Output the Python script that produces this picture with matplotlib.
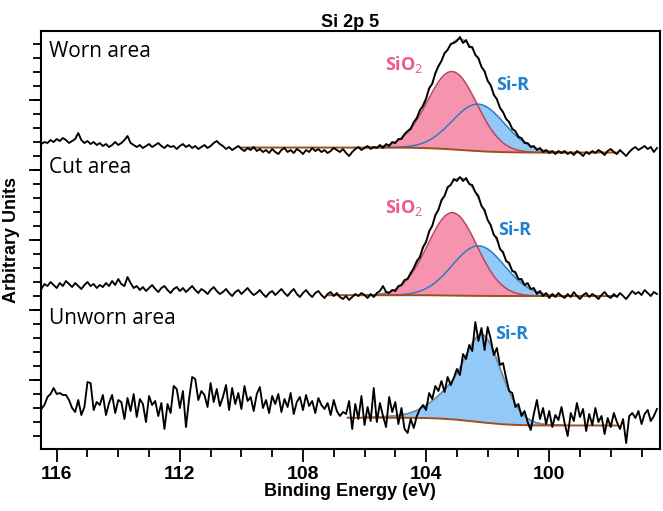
import numpy as np
import matplotlib.pyplot as plt
from matplotlib.ticker import MultipleLocator, FixedLocator

plt.rcParams['mathtext.fontset'] = 'custom'
plt.rcParams['mathtext.rm'] = 'Open Sans'
plt.rcParams['mathtext.bf'] = 'Open Sans:bold'

# Si 2p spectra, 0.1 eV steps from 116.5 down to 96.5 eV
energy = np.round(np.linspace(116.5, 96.5, 201), 1)

worn = [305, 307, 306, 309, 307, 310, 308, 311, 309, 306,
        308, 310, 316, 309, 306, 308, 305, 307, 304, 306,
        303, 305, 302, 304, 307, 304, 306, 309, 313, 306,
        304, 302, 304, 301, 303, 305, 302, 304, 306, 303,
        301, 304, 302, 303, 300, 303, 305, 302, 304, 301,
        303, 300, 302, 304, 301, 303, 306, 308, 305, 303,
        300, 302, 299, 301, 303, 300, 298, 301, 299, 302,
        298, 300, 297, 299, 296, 300, 297, 295, 299, 301,
        297, 299, 296, 300, 298, 295, 299, 297, 301, 298,
        300, 297, 299, 296, 298, 301, 299, 297, 300, 296,
        293, 297, 300, 302, 299, 301, 303, 300, 302, 301,
        304, 301, 305, 303, 307, 306, 310, 310, 315, 318,
        320, 327, 331, 339, 343, 350, 361, 365, 376, 383,
        388, 396, 399, 405, 406, 408, 412, 406, 409, 402,
        402, 394, 391, 382, 378, 368, 364, 354, 350, 341,
        337, 330, 327, 320, 318, 312, 311, 306, 306, 302,
        303, 299, 301, 297, 299, 296, 298, 295, 298, 296,
        298, 295, 297, 294, 298, 296, 293, 297, 295, 298,
        296, 299, 297, 294, 298, 300, 297, 295, 299, 296,
        293, 297, 300, 302, 299, 301, 303, 300, 302, 297, 301]

cut = [160, 165, 163, 167, 164, 161, 166, 163, 168, 165,
       162, 166, 163, 160, 164, 167, 163, 165, 161, 164,
       162, 166, 163, 168, 164, 170, 165, 163, 172, 166,
       161, 163, 159, 162, 158, 161, 164, 160, 157, 161,
       163, 159, 156, 160, 162, 158, 161, 157, 160, 163,
       159, 156, 160, 158, 155, 159, 162, 158, 155, 157,
       160, 156, 153, 157, 159, 155, 158, 161, 157, 154,
       156, 159, 155, 152, 156, 158, 154, 157, 160, 156,
       153, 157, 160, 155, 152, 156, 159, 155, 152, 156,
       158, 154, 151, 155, 157, 153, 156, 152, 150, 153,
       149, 152, 155, 153, 156, 154, 151, 155, 152, 156,
       158, 163, 157, 156, 159, 158, 163, 164, 169, 170,
       176, 181, 188, 192, 202, 207, 218, 223, 234, 239,
       249, 253, 262, 264, 270, 268, 272, 268, 271, 265,
       264, 257, 253, 243, 239, 229, 224, 214, 211, 200,
       197, 188, 186, 178, 177, 170, 170, 164, 166, 160,
       161, 155, 158, 153, 156, 151, 155, 152, 156, 153,
       151, 155, 152, 157, 153, 150, 154, 156, 152, 155,
       153, 150, 154, 157, 153, 151, 155, 152, 156, 153,
       150, 154, 158, 155, 157, 154, 159, 156, 153, 157, 155]

unworn = [40, 44, 52, 55, 61, 55, 56, 54, 54, 49,
          41, 37, 49, 34, 42, 67, 66, 39, 47, 44,
          54, 34, 46, 54, 36, 49, 47, 30, 51, 38,
          55, 32, 50, 45, 27, 53, 44, 48, 33, 46,
          20, 45, 36, 63, 60, 41, 58, 22, 50, 72,
          70, 49, 58, 54, 42, 66, 47, 60, 43, 52,
          64, 39, 61, 45, 56, 40, 63, 48, 52, 38,
          55, 62, 41, 49, 36, 53, 45, 55, 37, 50,
          42, 56, 35, 47, 52, 39, 54, 43, 48, 36,
          51, 44, 40, 46, 34, 49, 38, 33, 37, 35,
          48, 20, 45, 30, 53, 24, 42, 28, 61, 27,
          46, 33, 22, 52, 37, 47, 25, 41, 20, 16,
          30, 21, 33, 40, 44, 39, 56, 50, 63, 58,
          68, 57, 72, 64, 71, 80, 74, 95, 90, 104,
          98, 127, 108, 121, 99, 122, 110, 94, 101, 84,
          86, 71, 58, 56, 42, 45, 33, 38, 27, 19,
          35, 49, 30, 41, 25, 38, 22, 34, 29, 42,
          26, 13, 36, 28, 46, 32, 40, 18, 35, 24,
          41, 27, 33, 15, 31, 22, 36, 27, 20, 30,
          6, 33, 36, 31, 38, 25, 35, 39, 28, 33, 40]

# fitted components, 0.1 eV steps from 106.0 down to 99.5 eV (height above background)
fit_energy = np.round(np.linspace(106.0, 99.5, 66), 1)

worn_sio2 = [0.13, 0.21, 0.32, 0.48, 0.72,
             1.04, 1.49, 2.11, 2.93, 4.0, 5.4, 7.1, 9.3, 11.9, 15.1,
             18.8, 23.0, 27.8, 33.0, 38.5, 44.4, 50.3, 56.1, 61.6, 66.6,
             70.9, 74.3, 76.6, 77.8, 77.8, 76.6, 74.3, 70.9, 66.6, 61.6,
             56.1, 50.3, 44.4, 38.5, 33.0, 27.8, 23.0, 18.8, 15.1, 11.9,
             9.3, 7.1, 5.4, 4.0, 2.93, 2.11, 1.49, 1.04, 0.72, 0.48,
             0.32, 0.21, 0.13, 0.08, 0.05, 0.03, 0.02, 0.01, 0, 0, 0]
worn_sir = [0, 0, 0, 0.01, 0.02,
            0.04, 0.06, 0.09, 0.14, 0.21, 0.3, 0.44, 0.62, 0.87, 1.21,
            1.65, 2.22, 2.95, 3.86, 4.99, 6.36, 8.0, 9.9, 12.1, 14.6,
            17.3, 20.3, 23.5, 26.8, 30.2, 33.5, 36.6, 39.5, 42.1, 44.2,
            45.7, 46.7, 47.0, 46.7, 45.7, 44.2, 42.1, 39.5, 36.6, 33.5,
            30.2, 26.8, 23.5, 20.3, 17.3, 14.6, 12.1, 9.9, 8.0, 6.36,
            4.99, 3.86, 2.95, 2.22, 1.65, 1.21, 0.87, 0.62, 0.44, 0.3, 0.21]
worn_bg = [301.5, 301.5, 301.5, 301.5, 301.5, 301.5, 301.5, 301.5, 301.4, 301.4,
           301.4, 301.4, 301.4, 301.4, 301.3, 301.3, 301.2, 301.2, 301.1, 301.0,
           300.9, 300.8, 300.7, 300.6, 300.4, 300.3, 300.1, 299.9, 299.7, 299.5,
           299.3, 299.1, 298.9, 298.7, 298.5, 298.3, 298.1, 297.9, 297.7, 297.6,
           297.4, 297.3, 297.2, 297.1, 297.0, 296.9, 296.8, 296.8, 296.7, 296.7,
           296.6, 296.6, 296.6, 296.5, 296.5, 296.5, 296.5, 296.5, 296.5, 296.5,
           296.5, 296.5, 296.5, 296.5, 296.5, 296.5]

cut_sio2 = [0.14, 0.22, 0.34, 0.51, 0.77,
            1.1, 1.6, 2.2, 3.1, 4.3, 5.7, 7.6, 9.9, 12.7, 16.1,
            20.0, 24.5, 29.6, 35.1, 41.0, 47.2, 53.5, 59.7, 65.5, 70.9,
            75.4, 79.1, 81.5, 82.8, 82.8, 81.5, 79.1, 75.4, 70.9, 65.5,
            59.7, 53.5, 47.2, 41.0, 35.1, 29.6, 24.5, 20.0, 16.1, 12.7,
            9.9, 7.6, 5.7, 4.3, 3.1, 2.2, 1.6, 1.1, 0.77, 0.51,
            0.34, 0.22, 0.14, 0.09, 0.05, 0.03, 0.02, 0.01, 0, 0, 0]
cut_sir = [0, 0, 0, 0.01, 0.02,
           0.04, 0.06, 0.1, 0.15, 0.22, 0.32, 0.47, 0.66, 0.93, 1.29,
           1.76, 2.36, 3.14, 4.1, 5.3, 6.8, 8.5, 10.5, 12.9, 15.5,
           18.4, 21.6, 25.0, 28.5, 32.1, 35.6, 38.9, 42.0, 44.8, 47.0,
           48.6, 49.7, 50.0, 49.7, 48.6, 47.0, 44.8, 42.0, 38.9, 35.6,
           32.1, 28.5, 25.0, 21.6, 18.4, 15.5, 12.9, 10.5, 8.5, 6.8,
           5.3, 4.1, 3.14, 2.36, 1.76, 1.29, 0.93, 0.66, 0.47, 0.32, 0.22]
cut_bg = [153.8, 153.8, 153.8, 153.8, 153.8, 153.8, 153.8, 153.8, 153.8, 153.8,
          153.8, 153.8, 153.8, 153.8, 153.8, 153.8, 153.8, 153.8, 153.8, 153.8,
          153.8, 153.8, 153.7, 153.7, 153.7, 153.6, 153.6, 153.5, 153.5, 153.5,
          153.4, 153.4, 153.3, 153.3, 153.2, 153.2, 153.2, 153.1, 153.1, 153.1,
          153.1, 153.0, 153.0, 153.0, 153.0, 153.0, 153.0, 153.0, 153.0, 153.0,
          153.0, 153.0, 153.0, 153.0, 153.0, 153.0, 153.0, 153.0, 153.0, 153.0,
          153.0, 153.0, 153.0, 153.0, 153.0, 153.0]

unworn_sir = [0.3, 0.4, 0.5, 0.6, 0.7, 0.8, 1.0, 1.2, 1.4, 1.7, 2.0,
              2.4, 2.9, 3.5, 4.2, 5.1, 6.2, 7.5, 9.0, 10.8, 12.8,
              15.0, 17.4, 20.0, 22.8, 25.8, 29.0, 32.6, 36.6, 41.2, 46.4,
              52.2, 58.6, 65.4, 72.0, 78.0, 83.0, 86.6, 88.0, 87.0, 83.6,
              78.4, 71.6, 64.0, 56.0, 48.0, 40.4, 33.4, 27.0, 21.4, 16.6,
              12.6, 9.4, 6.9, 5.0, 3.6, 2.6, 1.9, 1.4, 1.0, 0.8,
              0.6, 0.5, 0.4, 0.3, 0.25]
unworn_bg = [31.3, 31.3, 31.3, 31.3, 31.3, 31.3, 31.3, 31.3, 31.3, 31.3,
             31.3, 31.3, 31.3, 31.2, 31.2,
             31.2, 31.2, 31.2, 31.1, 31.1, 31.0, 30.9, 30.8, 30.7, 30.6,
             30.4, 30.3, 30.1, 29.8, 29.6, 29.3, 29.0, 28.7, 28.4, 28.1,
             27.7, 27.4, 27.1, 26.7, 26.4, 26.1, 25.8, 25.5, 25.2, 25.0,
             24.7, 24.5, 24.4, 24.2, 24.1, 24.0, 23.9, 23.8, 23.7, 23.7,
             23.6, 23.6, 23.6, 23.5, 23.5, 23.5, 23.5, 23.5, 23.5, 23.5, 23.5]

# Shirley backgrounds as drawn (brown lines)
worn_bgline_e = [110.0, 105.0, 104.5, 104.0, 103.5, 103.0, 102.5, 102.0, 101.5, 101.0, 100.5, 97.8]
worn_bgline = [301.5, 301.4, 301.3, 300.9, 300.3, 299.3, 298.3, 297.4, 296.9, 296.6, 296.5, 296.5]
cut_bgline_e = [107.2, 104.0, 103.0, 102.0, 101.0, 97.8]
cut_bgline = [153.8, 153.8, 153.4, 153.1, 153.0, 153.0]
unworn_bgline_e = [106.55, 104.5, 104.0, 103.5, 103.0, 102.5, 102.0, 101.5, 101.0, 100.5, 97.8]
unworn_bgline = [31.3, 31.2, 31.0, 30.4, 29.3, 27.7, 26.1, 24.7, 24.0, 23.6, 23.5]

panel_names = ['Worn area', 'Cut area', 'Unworn area']

pink_fill = '#f694b0'
pink_line = '#b8465f'
blue_fill = '#92c9f6'
blue_line = '#2a7cc4'
brown = '#9e4f1c'

fig = plt.figure(figsize=(6.63, 5.11), dpi=100)
ax = fig.add_axes([0.0614, 0.1213, 0.9341, 0.818])

fit_e = fit_energy
for bg, comps in [(worn_bg, [(worn_sir, blue_fill, blue_line), (worn_sio2, pink_fill, pink_line)]),
                  (cut_bg, [(cut_sir, blue_fill, blue_line), (cut_sio2, pink_fill, pink_line)]),
                  (unworn_bg, [(unworn_sir, blue_fill, blue_line)])]:
    bg = np.array(bg)
    for comp, fc, lc in comps:
        ax.fill_between(fit_e, bg, bg + np.array(comp), color=fc, lw=0, zorder=1)
    for comp, fc, lc in comps:
        ax.plot(fit_e, bg + np.array(comp), color=lc, lw=1.1, zorder=2)
    env = bg + np.sum([np.array(c[0]) for c in comps], axis=0)
    ax.plot(fit_e, env, color='#8c8c8c', lw=1.0, zorder=3)

for e, b in [(worn_bgline_e, worn_bgline), (cut_bgline_e, cut_bgline), (unworn_bgline_e, unworn_bgline)]:
    ax.plot(e, b, color=brown, lw=1.4, zorder=4)

for spec in [worn, cut, unworn]:
    ax.plot(energy, spec, color='black', lw=1.35, zorder=5)

ax.set_xlim(116.52, 96.40)
ax.set_ylim(0, 418)

ax.xaxis.set_major_locator(FixedLocator([116, 112, 108, 104, 100]))
ax.xaxis.set_minor_locator(MultipleLocator(1))
ax.yaxis.set_major_locator(FixedLocator([69, 139, 209, 279, 349]))
ax.yaxis.set_minor_locator(FixedLocator(np.arange(13.3, 418, 14)))
ax.set_yticklabels([])
ax.tick_params(axis='both', which='major', direction='out', length=9, width=1.3, color='black')
ax.tick_params(axis='both', which='minor', direction='out', length=6, width=1.3, color='black')
ax.tick_params(axis='x', labelsize=14, pad=3)
for lab in ax.get_xticklabels():
    lab.set_fontweight('bold')
    lab.set_fontfamily('Liberation Sans')
for sp in ax.spines.values():
    sp.set_linewidth(1.5)

ax.set_xlabel('Binding Energy (eV)', fontsize=13, fontweight='bold', family='Liberation Sans', labelpad=0)
ax.set_ylabel('Arbitrary Units', fontsize=13, fontweight='bold', family='Liberation Sans')
ax.yaxis.set_label_coords(-0.033, 0.5)
ax.set_title('Si 2p 5', fontsize=13, fontweight='bold', family='Liberation Sans', pad=3)

# panel labels
for name, ypix in zip(panel_names, [51.7, 167, 318]):
    ax.text(116.25, 449 - ypix, name, fontsize=15, family='Open Sans', va='center', ha='left', zorder=6)

sio2_col = '#ee5a86'
sir_col = '#1f80d2'
sio2_txt = r'$\mathbf{SiO}_{\mathrm{2}}$'
ax.text(105.34, 449 - 64, sio2_txt, color=sio2_col, fontsize=13, va='center', zorder=6)
ax.text(101.71, 449 - 85, 'Si-R', color=sir_col, fontsize=13, fontweight='bold', family='Open Sans', va='center', zorder=6)
ax.text(105.34, 449 - 207, sio2_txt, color=sio2_col, fontsize=13, va='center', zorder=6)
ax.text(101.67, 449 - 230, 'Si-R', color=sir_col, fontsize=13, fontweight='bold', family='Open Sans', va='center', zorder=6)
ax.text(101.77, 449 - 334, 'Si-R', color=sir_col, fontsize=13, fontweight='bold', family='Open Sans', va='center', zorder=6)

fig.savefig('out.png', dpi=100)
